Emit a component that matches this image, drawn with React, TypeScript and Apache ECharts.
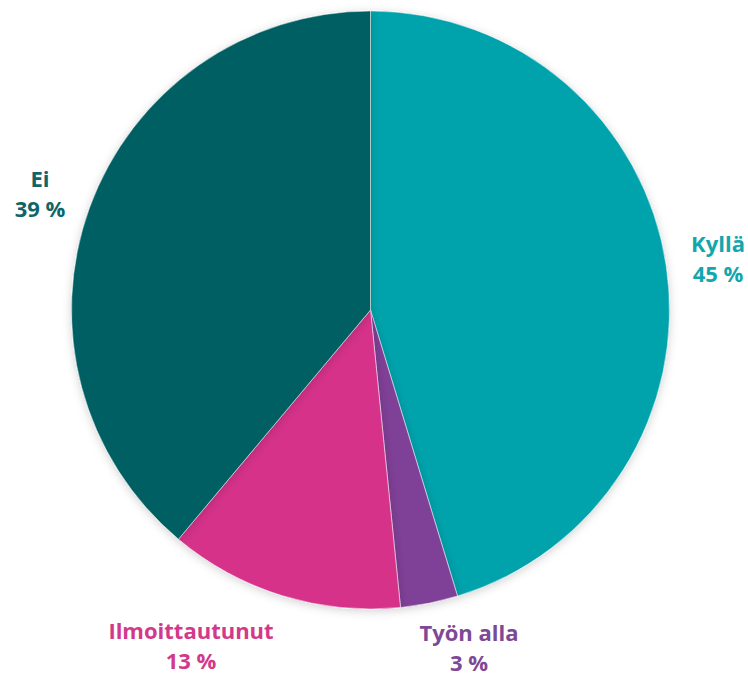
import React, { useEffect, useRef } from "react";
import * as echarts from "echarts";

const categories = ["Kyllä", "Työn alla", "Ilmoittautunut", "Ei"];
const values = [45.3, 3.1, 12.7, 38.9];
const percentLabels = ["45 %", "3 %", "13 %", "39 %"];
const sliceColors = ["#00A3AC", "#7F3F97", "#D6338A", "#045E62"];
const labelColors = ["#13A7AD", "#7E4896", "#D3398A", "#0F6569"];
// label anchor positions (page coordinates)
const labelPos: [number, number][] = [
  [718, 258],
  [469, 647],
  [191, 645],
  [40, 193],
];

export default function App() {
  const ref = useRef<HTMLDivElement>(null);
  useEffect(() => {
    if (!ref.current) return;
    const chart = echarts.init(ref.current, null, { renderer: "svg" });
    chart.setOption({
      animation: false,
      backgroundColor: "#ffffff",
      series: [
        {
          type: "pie",
          center: [370.5, 310],
          radius: [0, 299],
          startAngle: 90,
          clockwise: true,
          data: categories.map((c, i) => ({
            name: c,
            value: values[i],
            itemStyle: { color: sliceColors[i] },
            label: { color: labelColors[i] },
          })),
          itemStyle: {
            borderColor: "rgba(255,255,255,0.6)",
            borderWidth: 0.8,
            shadowBlur: 10,
            shadowColor: "rgba(0,0,0,0.18)",
            shadowOffsetY: 2,
          },
          label: {
            show: true,
            position: "outside",
            formatter: (p: any) => `${p.name}\n${percentLabels[p.dataIndex]}`,
            fontFamily: "Open Sans",
            fontWeight: "bold",
            fontSize: 22,
            lineHeight: 30,
            align: "center",
            overflow: "none",
          },
          labelLine: { show: false },
          labelLayout: (params: any) => ({
            x: labelPos[params.dataIndex][0],
            y: labelPos[params.dataIndex][1],
            align: "center",
            verticalAlign: "middle",
            hideOverlap: false,
          }),
          emphasis: { disabled: true },
        },
      ],
    });
    return () => chart.dispose();
  }, []);
  return (
    <div
      ref={ref}
      style={{ position: "absolute", left: 0, top: 0, width: 748, height: 678 }}
    />
  );
}
